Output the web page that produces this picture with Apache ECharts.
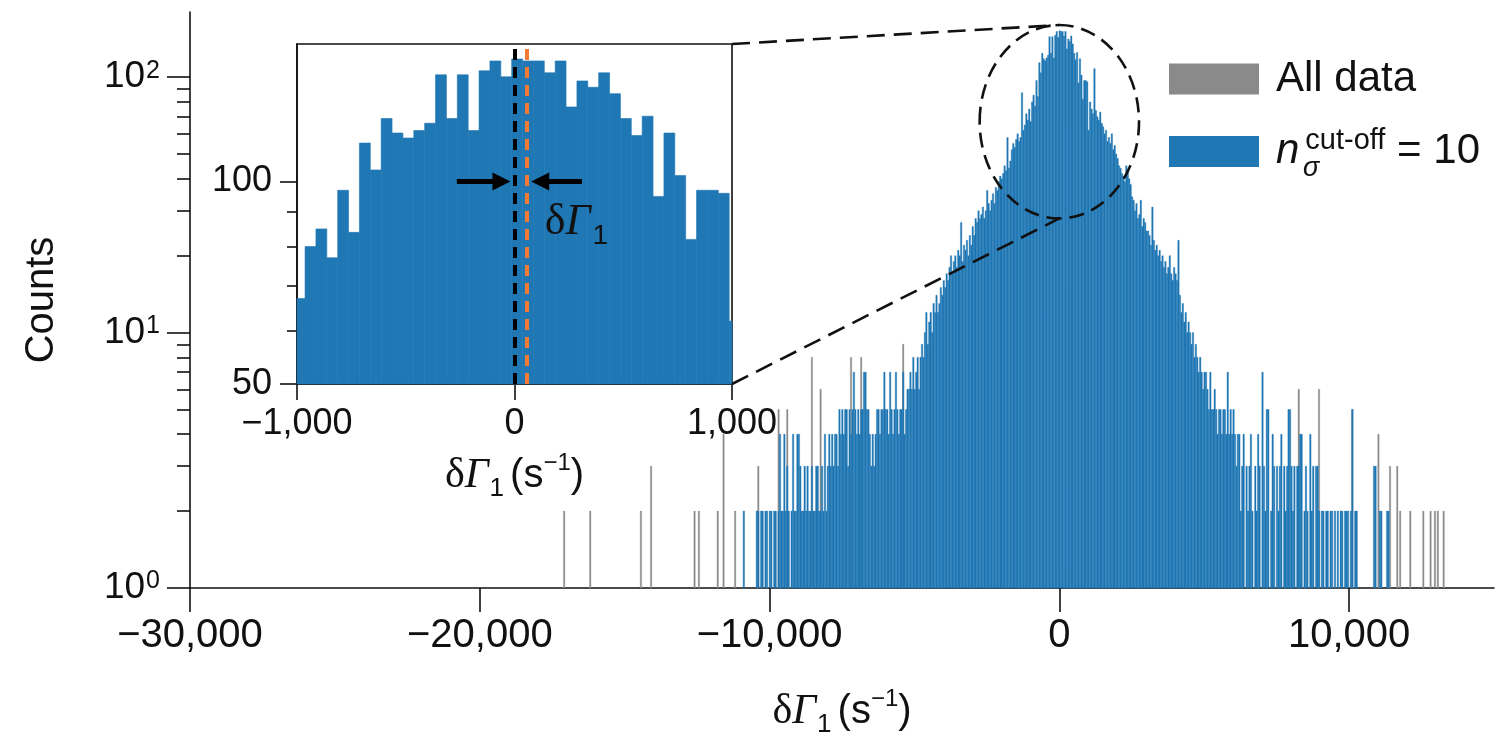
<!DOCTYPE html>
<html>
<head>
<meta charset="utf-8">
<script src="https://cdn.jsdelivr.net/npm/echarts@6/dist/echarts.min.js"></script>
<style>html,body{margin:0;padding:0;background:#fff}#c{width:1512px;height:740px}</style>
</head>
<body>
<div id="c"></div>
<script>
// ================= DATA =================
const BIN_WIDTH = 50;            // histogram bin width, s^-1
const MAIN_FIRST_EDGE = -10963;  // left edge of the first n_sigma=10 bin

// n_sigma^cut-off = 10 counts, left tail: 199 bins from -10963 to -1013
const leftTailCounts = [
  1,2,0,1,0,1,1,0,1,1,2,2,1,2,2,1,2,2,1,2,
  2,1,2,2,1,2,4,2,2,4,2,3,2,1,2,4,2,2,4,4,
  3,2,2,3,2,3,2,2,3,2,2,3,3,2,2,3,2,4,2,3,
  4,3,4,3,4,4,3,5,4,5,4,5,5,3,5,4,5,7,5,4,
  5,4,5,5,7,7,5,5,4,3,4,3,4,5,5,4,5,5,7,5,
  5,4,7,5,4,5,7,5,4,5,5,7,4,5,6,6,7,6,8,6,
  7,8,6,8,9,8,10,12,9,11,12,10,13,12,14,12,13,15,14,16,
  15,17,16,18,20,17,19,20,18,21,20,27,19,22,21,23,20,24,22,26,
  24,28,27,30,28,29,31,28,30,36,32,30,33,35,32,37,36,39,41,40,
  42,45,43,58,44,47,52,55,53,57,60,56,58,87,62,65,72,68,75
];
// central 41 bins from -1013 to 1037 (the zoomed inset shows these)
const centralCounts = [
  67,80,85,77,97,84,114,104,124,118,116,119,122,144,124,144,119,146,151,143,
  152,151,151,145,151,129,141,138,145,135,124,117,125,95,118,102,82,97,97,96,62
];
// right tail: 214 bins from 1037 to 11737
const rightTailCounts = [
  80,75,72,108,74,70,68,73,66,64,60,62,56,58,55,60,52,54,50,48,
  45,44,42,41,39,45,43,40,38,34,33,30,32,28,29,33,26,28,27,25,
  25,24,22,31,23,21,22,20,21,19,20,18,19,17,18,20,17,16,18,17,
  16,23,14,12,13,11,12,10,11,10,9,10,8,9,8,7,8,7,6,7,
  7,6,5,7,5,5,6,5,4,5,5,4,5,5,4,7,4,5,4,5,
  4,3,4,4,2,3,4,1,3,2,3,4,2,1,3,2,4,3,1,7,
  3,2,5,5,1,2,4,3,1,3,2,3,4,1,3,2,3,5,5,3,
  2,3,1,3,3,4,4,1,2,3,2,1,4,2,3,1,3,3,2,1,
  2,2,1,2,2,1,2,2,1,2,1,2,1,2,2,1,2,2,2,1,
  2,5,1,2,2,1,1,1,0,1,1,0,1,1,1,1,3,3,1,1,
  2,2,1,0,1,2,2,1,0,1,0,1,0,0
];
// "All data" bins visible where they exceed the cut-off data: [delta Gamma_1, count]
const allDataTailBins = [
  [-17100,2],[-16170,2],[-14450,2],[-14070,3],[-12590,2],[-12450,2],[-11790,2],
  [-11590,4],[-11210,2],[-10410,3],[-9690,5],[-9380,5],[-8520,8],[-8240,6],
  [-7210,8],[-6860,8],[-5410,9],[8240,6],[8965,6],[10100,5],[11000,4],[11410,3],
  [11650,3],[11760,2],[12100,2],[12550,2],[12790,2],[12970,2],[13070,2],[13240,2]
];

const mainXRange = [-30000, 15000];
const mainXTicks = [-30000, -20000, -10000, 0, 10000];
const mainYRange = [1, 180];
const mainYTicks = [1, 10, 100];
const mainYMinor = [2,3,4,5,6,7,8,9,20,30,40,50,60,70,80,90];
const insetXRange = [-1000, 1000];
const insetYRange = [50, 160];
const insetYTicks = [50, 100];
const insetYMinor = [60, 70, 80, 90];
const referenceLine = 0;     // black dashed line
const shiftedLine = 55;      // orange dashed line (delta Gamma_1)
const arrowLevel = 100;
const leftArrow = [-265, -60];
const rightArrow = [310, 118];
const deltaLabelAt = [285, 87];
const zoomRegion = { x: [-2750, 2750], y: [28, 160] };

// ================= CHART =================
const SANS = '"Liberation Sans", Arial, Helvetica, sans-serif';
const SERIF = '"Liberation Serif", "Times New Roman", serif';
const INK = '#111111';
const BLUE = '#1f77b4';
const GREY = '#8a8a8a';
const ORANGE = '#f47a36';

function fmtThousands(v) {
  const s = Math.abs(v).toString().replace(/\B(?=(\d{3})+(?!\d))/g, ',');
  return (v < 0 ? '\u2212' : '') + s;
}

const mainCounts = leftTailCounts.concat(centralCounts, rightTailCounts);
const blueBins = mainCounts
  .map((c, i) => [MAIN_FIRST_EDGE + i * BIN_WIDTH, MAIN_FIRST_EDGE + (i + 1) * BIN_WIDTH, c])
  .filter(d => d[2] > 0);
const insetFirstEdge = MAIN_FIRST_EDGE + leftTailCounts.length * BIN_WIDTH;
const insetBins = centralCounts.map((c, i) => [insetFirstEdge + i * BIN_WIDTH, insetFirstEdge + (i + 1) * BIN_WIDTH, c]);
const greyBins = allDataTailBins.map(([v, c]) => {
  const e = MAIN_FIRST_EDGE + Math.floor((v - MAIN_FIRST_EDGE) / BIN_WIDTH) * BIN_WIDTH;
  return [e, e + BIN_WIDTH, c];
});

function makeRender(base, xClip, strokeW) {
  return function (params, api) {
    let x0 = api.value(0), x1 = api.value(1);
    const c = api.value(2);
    if (!(c > base)) return null;
    if (xClip) { x0 = Math.max(x0, xClip[0]); x1 = Math.min(x1, xClip[1]); if (x1 <= x0) return null; }
    const p0 = api.coord([x0, c]);
    const p1 = api.coord([x1, base]);
    const col = api.visual('color');
    return { type: 'rect', shape: { x: p0[0], y: p0[1], width: p1[0] - p0[0], height: p1[1] - p0[1] },
             style: { fill: col, stroke: col, lineWidth: strokeW } };
  };
}

const nameRich = {
  d: { fontFamily: SERIF, fontSize: 42, lineHeight: 44, color: INK, verticalAlign: 'middle' },
  g: { fontFamily: SERIF, fontStyle: 'italic', fontSize: 42, lineHeight: 44, color: INK, verticalAlign: 'middle' },
  sub: { fontFamily: SANS, fontSize: 26, lineHeight: 26, color: INK, padding: [26, 6, 0, 1], verticalAlign: 'middle' },
  t: { fontFamily: SANS, fontSize: 40, lineHeight: 44, color: INK, verticalAlign: 'middle' },
  sup: { fontFamily: SANS, fontSize: 24, lineHeight: 24, color: INK, padding: [0, 0, 26, 0], verticalAlign: 'middle' }
};
const nameText = '{d|δ}{g|Γ}{sub|1}{t|(s}{sup|\u22121}{t|)}';

const chart = echarts.init(document.getElementById('c'), null, { renderer: 'canvas' });

const axisLineStyle = { color: INK, width: 1.6 };

const option = {
  backgroundColor: '#ffffff',
  animation: false,
  grid: [
    { left: 190, top: 12, width: 1304, height: 576, outerBoundsMode: 'none', containLabel: false },
    { left: 297, top: 44, width: 435, height: 340, show: true, backgroundColor: '#ffffff',
      borderColor: INK, borderWidth: 1.6, outerBoundsMode: 'none', containLabel: false }
  ],
  xAxis: [
    { gridIndex: 0, type: 'value', min: mainXRange[0], max: mainXRange[1], interval: 10000,
      axisLine: { onZero: false, lineStyle: axisLineStyle },
      axisTick: { length: 24, lineStyle: axisLineStyle, customValues: mainXTicks },
      axisLabel: { customValues: mainXTicks, formatter: fmtThousands, fontSize: 40, fontFamily: SANS, color: INK, margin: 28 },
      splitLine: { show: false },
      name: nameText, nameLocation: 'middle', nameGap: 102, nameTextStyle: { rich: nameRich } },
    { gridIndex: 1, type: 'value', min: insetXRange[0], max: insetXRange[1], interval: 1000,
      axisLine: { onZero: false, lineStyle: axisLineStyle },
      axisTick: { length: 16, lineStyle: axisLineStyle },
      axisLabel: { formatter: fmtThousands, fontSize: 36, fontFamily: SANS, color: INK, margin: 22 },
      splitLine: { show: false },
      name: nameText, nameLocation: 'middle', nameGap: 70, nameTextStyle: { rich: nameRich } }
  ],
  yAxis: [
    { gridIndex: 0, type: 'log', logBase: 10, position: 'left', min: mainYRange[0], max: mainYRange[1],
      axisLine: { show: true, onZero: false, lineStyle: axisLineStyle },
      axisTick: { length: 23, lineStyle: axisLineStyle, customValues: mainYTicks },
      axisLabel: { customValues: mainYTicks, margin: 30,
        formatter: v => '{b|10}{s|' + Math.round(Math.log10(v)) + '}',
        rich: {
          b: { fontFamily: SANS, fontSize: 37, lineHeight: 38, color: INK, verticalAlign: 'middle' },
          s: { fontFamily: SANS, fontSize: 25, lineHeight: 25, color: INK, padding: [0, 0, 13, 1], verticalAlign: 'middle' }
        } },
      splitLine: { show: false },
      name: 'Counts', nameLocation: 'middle', nameGap: 128,
      nameTextStyle: { fontFamily: SANS, fontSize: 40, color: INK } },
    { gridIndex: 0, type: 'log', logBase: 10, position: 'left', min: mainYRange[0], max: mainYRange[1],
      axisLine: { show: false, onZero: false },
      axisTick: { length: 13, lineStyle: axisLineStyle, customValues: mainYMinor },
      axisLabel: { show: false }, splitLine: { show: false } },
    { gridIndex: 1, type: 'log', logBase: 10, position: 'left', min: insetYRange[0], max: insetYRange[1],
      axisLine: { show: true, onZero: false, lineStyle: axisLineStyle },
      axisTick: { length: 17, lineStyle: axisLineStyle, customValues: insetYTicks },
      axisLabel: { customValues: insetYTicks, fontSize: 36, fontFamily: SANS, color: INK, margin: 25 },
      splitLine: { show: false } },
    { gridIndex: 1, type: 'log', logBase: 10, position: 'left', min: insetYRange[0], max: insetYRange[1],
      axisLine: { show: false, onZero: false },
      axisTick: { length: 10, lineStyle: axisLineStyle, customValues: insetYMinor },
      axisLabel: { show: false }, splitLine: { show: false } }
  ],
  legend: {
    data: ['All data', 'cutoff10'], orient: 'vertical', left: 1164, top: 53,
    itemWidth: 90, itemHeight: 31, itemGap: 26, icon: 'rect', selectedMode: false,
    formatter: name => name === 'All data' ? '{t|All data}' : '{n|n}{sup|cut-off}{t2| = 10}',
    textStyle: {
      color: INK,
      rich: {
        t: { fontFamily: SANS, fontSize: 42, lineHeight: 44, color: INK, padding: [0, 0, 0, 12], verticalAlign: 'middle' },
        n: { fontFamily: SANS, fontStyle: 'italic', fontSize: 42, lineHeight: 44, color: INK, padding: [0, 0, 0, 12], verticalAlign: 'middle' },
        sup: { fontFamily: SANS, fontSize: 29, lineHeight: 29, color: INK, padding: [0, 0, 22, 6], verticalAlign: 'middle' },
        t2: { fontFamily: SANS, fontSize: 42, lineHeight: 44, color: INK, verticalAlign: 'middle' }
      }
    }
  },
  series: [
    { name: 'All data', type: 'custom', xAxisIndex: 0, yAxisIndex: 0, z: 2,
      itemStyle: { color: GREY }, encode: { x: [0, 1], y: 2 },
      renderItem: makeRender(1, null, 0.3), data: greyBins },
    { name: 'cutoff10', type: 'custom', xAxisIndex: 0, yAxisIndex: 0, z: 3,
      itemStyle: { color: BLUE }, encode: { x: [0, 1], y: 2 },
      renderItem: makeRender(1, null, 0.35), data: blueBins },
    { name: 'cutoff10', type: 'custom', xAxisIndex: 1, yAxisIndex: 2, z: 3,
      itemStyle: { color: BLUE }, encode: { x: [0, 1], y: 2 },
      renderItem: makeRender(insetYRange[0], insetXRange, 0.6), data: insetBins,
      markLine: {
        silent: true, animation: false, label: { show: false },
        symbol: ['none', 'none'],
        data: [
          { xAxis: referenceLine, lineStyle: { color: '#000', width: 4, type: [11, 7] } },
          { xAxis: shiftedLine, lineStyle: { color: ORANGE, width: 4, type: [11, 7] } },
          [ { coord: [leftArrow[0], arrowLevel], symbol: 'none' },
            { coord: [leftArrow[1], arrowLevel], symbol: 'triangle', symbolSize: [18, 18] } ],
          [ { coord: [rightArrow[0], arrowLevel], symbol: 'none' },
            { coord: [rightArrow[1], arrowLevel], symbol: 'triangle', symbolSize: [18, 18] } ]
        ],
        lineStyle: { color: '#000', width: 5, type: 'solid' },
        itemStyle: { color: '#000' }
      } }
  ]
};
chart.setOption(option);

// ---------- annotations computed from the axes ----------
const trInset = chart.convertToPixel({ seriesIndex: 2 }, [insetXRange[1], insetYRange[1]]);
const brInset = chart.convertToPixel({ seriesIndex: 2 }, [insetXRange[1], insetYRange[0]]);
const eL = chart.convertToPixel({ seriesIndex: 1 }, [zoomRegion.x[0], zoomRegion.y[0]]);
const eR = chart.convertToPixel({ seriesIndex: 1 }, [zoomRegion.x[1], zoomRegion.y[1]]);
const ecx = (eL[0] + eR[0]) / 2, ecy = (eL[1] + eR[1]) / 2;
const erx = Math.abs(eR[0] - eL[0]) / 2, ery = Math.abs(eR[1] - eL[1]) / 2;
const lbl = chart.convertToPixel({ seriesIndex: 2 }, deltaLabelAt);
const dashStyle = { stroke: INK, lineWidth: 2.6, lineDash: [18, 9], fill: null };

chart.setOption({
  graphic: [
    { type: 'line', z: 50, shape: { x1: trInset[0], y1: trInset[1], x2: ecx, y2: ecy - ery }, style: dashStyle },
    { type: 'line', z: 50, shape: { x1: brInset[0], y1: brInset[1], x2: ecx, y2: ecy + ery }, style: dashStyle },
    { type: 'ellipse', z: 50, shape: { cx: ecx, cy: ecy, rx: erx, ry: ery },
      style: { stroke: INK, lineWidth: 2.6, lineDash: [15, 8], fill: null } },
    { type: 'text', z: 60, x: lbl[0], y: lbl[1],
      style: { text: '{d|δ}{g|Γ}{s|1}', align: 'center', verticalAlign: 'middle',
        rich: {
          d: { fontFamily: SERIF, fontSize: 44, lineHeight: 46, fill: INK, verticalAlign: 'middle' },
          g: { fontFamily: SERIF, fontStyle: 'italic', fontSize: 44, lineHeight: 46, fill: INK, verticalAlign: 'middle' },
          s: { fontFamily: SANS, fontSize: 28, lineHeight: 28, fill: INK, padding: [28, 0, 0, 2], verticalAlign: 'middle' }
        } } },
    { type: 'text', z: 60, x: 1303, y: 155,
      style: { text: 'σ', font: 'italic 27px "Liberation Sans", Arial, sans-serif', fill: INK } }
  ]
});
</script>
</body>
</html>
